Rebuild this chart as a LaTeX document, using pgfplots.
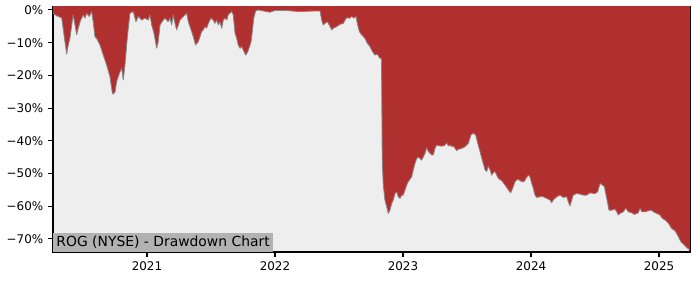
\documentclass[border=0pt]{standalone}
\usepackage{fontspec}
\setmainfont{DejaVu Sans}
\usepackage{pgfplots}
\usepackage{pgfplotstable}
\pgfplotsset{compat=1.18}
\usepgfplotslibrary{fillbetween}
\definecolor{ddred}{HTML}{B03030}
\definecolor{bggray}{HTML}{EEEEEE}
\definecolor{labgray}{HTML}{B2B2B2}
\definecolor{edgegray}{HTML}{858585}
\newcommand{\mns}{{\fontspec{DejaVu Sans}\symbol{"2212}}}

\pgfplotstableread{
year dd
2020.266 -1.0
2020.295 -1.8
2020.334 -2.4
2020.352 -7.6
2020.373 -13.5
2020.385 -10.7
2020.398 -8.7
2020.412 -4.6
2020.424 -1.5
2020.438 -4.6
2020.451 -7.6
2020.463 -5.6
2020.482 -3.1
2020.502 -1.5
2020.516 -2.5
2020.529 -1.0
2020.549 -2.0
2020.568 -0.5
2020.580 -3.6
2020.594 -8.2
2020.607 -8.7
2020.633 -10.7
2020.659 -13.8
2020.685 -16.8
2020.711 -20.4
2020.731 -25.7
2020.750 -25.2
2020.763 -21.9
2020.789 -18.9
2020.802 -17.8
2020.815 -21.4
2020.828 -16.8
2020.846 -8.6
2020.867 -1.0
2020.893 -0.5
2020.914 -3.6
2020.932 -2.0
2020.959 -3.1
2020.984 -2.5
2021.010 -3.1
2021.023 -1.5
2021.037 -4.6
2021.055 -7.1
2021.076 -11.7
2021.088 -9.7
2021.102 -4.6
2021.127 -3.1
2021.141 -2.5
2021.166 -3.6
2021.180 -2.5
2021.193 -4.6
2021.205 -1.5
2021.219 -4.1
2021.232 -6.1
2021.245 -4.6
2021.258 -3.1
2021.284 -2.0
2021.310 -1.0
2021.323 -3.6
2021.336 -5.1
2021.349 -6.6
2021.362 -8.2
2021.380 -10.7
2021.401 -9.7
2021.414 -8.2
2021.427 -6.6
2021.440 -6.1
2021.453 -5.1
2021.466 -5.6
2021.479 -4.1
2021.500 -2.5
2021.518 -3.1
2021.531 -4.1
2021.545 -3.1
2021.557 -4.6
2021.570 -3.6
2021.584 -5.6
2021.596 -3.1
2021.609 -2.5
2021.623 -3.1
2021.635 -1.5
2021.648 -1.0
2021.662 -0.5
2021.674 -1.5
2021.688 -7.1
2021.701 -8.7
2021.713 -10.7
2021.727 -11.7
2021.740 -11.2
2021.752 -12.2
2021.771 -13.8
2021.787 -12.8
2021.797 -11.7
2021.813 -9.7
2021.823 -6.6
2021.834 -2.5
2021.849 -0.3
2021.870 0
2021.961 -0.7
2022.000 -0.15
2022.078 -0.15
2022.195 -0.5
2022.313 -0.3
2022.352 -0.3
2022.365 -3.1
2022.377 -4.6
2022.391 -4.1
2022.409 -3.6
2022.424 -4.6
2022.443 -6.1
2022.455 -5.6
2022.482 -5.1
2022.508 -4.4
2022.534 -4.1
2022.547 -3.1
2022.560 -2.4
2022.586 -2.5
2022.599 -2.0
2022.617 -2.5
2022.633 -2.0
2022.643 -4.1
2022.659 -6.6
2022.677 -7.6
2022.703 -8.7
2022.721 -10.2
2022.742 -11.2
2022.763 -12.8
2022.781 -13.8
2022.799 -13.5
2022.820 -14.8
2022.832 -14.8
2022.838 -45.9
2022.846 -53.5
2022.859 -58.1
2022.873 -60.2
2022.885 -62.2
2022.898 -61.2
2022.912 -59.1
2022.924 -58.1
2022.938 -56.1
2022.951 -55.6
2022.963 -57.1
2022.977 -57.6
2022.990 -56.6
2023.002 -56.6
2023.016 -55.0
2023.029 -53.5
2023.041 -52.5
2023.068 -51.0
2023.080 -48.9
2023.094 -46.9
2023.107 -45.4
2023.120 -45.0
2023.133 -45.4
2023.146 -45.9
2023.159 -44.9
2023.172 -43.8
2023.185 -42.1
2023.198 -43.3
2023.211 -43.8
2023.224 -44.3
2023.237 -44.3
2023.250 -42.3
2023.263 -41.3
2023.289 -41.6
2023.315 -41.6
2023.328 -41.3
2023.341 -40.6
2023.354 -41.6
2023.367 -41.3
2023.380 -41.8
2023.393 -41.6
2023.406 -42.3
2023.420 -43.0
2023.432 -42.6
2023.459 -42.3
2023.484 -41.8
2023.510 -40.8
2023.531 -38.2
2023.549 -37.7
2023.568 -38.2
2023.584 -40.8
2023.602 -43.3
2023.615 -45.3
2023.627 -46.9
2023.641 -48.9
2023.654 -49.4
2023.666 -47.7
2023.680 -48.9
2023.693 -50.5
2023.705 -49.8
2023.719 -49.4
2023.732 -50.5
2023.745 -51.5
2023.771 -52.2
2023.797 -53.5
2023.823 -55.0
2023.841 -55.9
2023.857 -54.5
2023.875 -52.5
2023.893 -51.8
2023.909 -52.0
2023.927 -52.5
2023.945 -52.5
2023.961 -51.5
2023.979 -50.5
2023.992 -51.0
2024.005 -53.0
2024.018 -54.5
2024.031 -56.6
2024.045 -57.3
2024.070 -57.1
2024.096 -57.1
2024.123 -57.6
2024.148 -58.1
2024.162 -58.9
2024.174 -58.1
2024.201 -57.1
2024.227 -56.6
2024.252 -57.3
2024.279 -57.1
2024.291 -58.6
2024.305 -59.9
2024.318 -58.1
2024.330 -56.6
2024.357 -56.1
2024.383 -56.3
2024.409 -56.6
2024.435 -56.6
2024.461 -55.9
2024.487 -56.1
2024.500 -56.1
2024.521 -55.6
2024.539 -53.0
2024.557 -53.5
2024.573 -54.0
2024.584 -56.1
2024.599 -59.1
2024.609 -61.2
2024.630 -61.2
2024.656 -60.9
2024.670 -61.7
2024.682 -62.7
2024.695 -62.2
2024.721 -61.7
2024.740 -60.6
2024.760 -61.7
2024.787 -62.0
2024.807 -62.5
2024.826 -62.2
2024.838 -62.0
2024.852 -60.6
2024.865 -61.7
2024.891 -61.7
2024.916 -61.4
2024.943 -61.2
2024.955 -61.7
2024.982 -62.2
2025.008 -62.7
2025.026 -63.7
2025.047 -64.2
2025.073 -65.2
2025.099 -66.8
2025.125 -67.5
2025.151 -69.3
2025.172 -70.9
2025.190 -71.6
2025.216 -72.6
2025.242 -73.4
}\ddtable

\begin{document}
\begin{tikzpicture}
\begin{axis}[
  at={(0,0)}, anchor=south west,
  scale only axis, width=458.6pt, height=176.4pt,
  xmin=2020.266, xmax=2025.242, ymin=-74.0, ymax=0.9,
  axis background/.style={fill=bggray},
  xtick={2021,2022,2023,2024,2025},
  xticklabels={2021,2022,2023,2024,2025},
  ytick={-70,-60,-50,-40,-30,-20,-10,0},
  yticklabels={\mns70\%,\mns60\%,\mns50\%,\mns40\%,\mns30\%,\mns20\%,\mns10\%,0\%},
  tick align=outside, tick pos=left,
  major tick length=3.5pt,
  every tick/.style={black, line width=0.8pt},
  tick label style={font=\fontsize{8.6}{10}\selectfont},
  axis line style={line width=0.8pt},
  every axis plot/.append style={line join=round},
]
\addplot[name path=dd, draw=none] table[x=year, y=dd] {\ddtable};
\addplot[name path=top, draw=none] coordinates {(2020.266,2) (2025.242,2)};
\addplot[fill=ddred, draw=none] fill between[of=dd and top];
\addplot[draw=edgegray, line width=0.6pt] table[x=year, y=dd] {\ddtable};
\node[anchor=south west, fill=labgray, inner xsep=2.3pt, inner ysep=0pt,
      minimum height=13.2pt, font=\fontsize{10}{12}\selectfont]
  at (rel axis cs:0,0) {ROG (NYSE) - Drawdown Chart};
\end{axis}
\pgfresetboundingbox
\path[use as bounding box] (-38.16pt,-20.16pt) rectangle (465.8pt,181.44pt);
\end{tikzpicture}
\end{document}
